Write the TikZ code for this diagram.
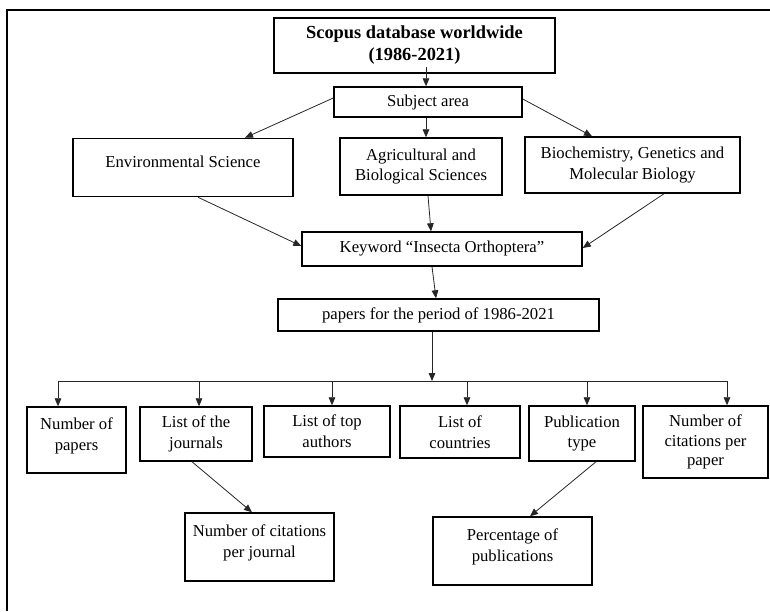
\documentclass[tikz,border=0pt]{standalone}
\usepackage{fontspec}
\setmainfont{Liberation Serif}
\usetikzlibrary{arrows.meta,calc}

\begin{document}
\begin{tikzpicture}
    [%%%%%%%%%%%%%%%%%%%%%%%%%%%%%%
        x=0.75pt, y=-0.75pt,
        box/.style={rectangle,draw=black,line width=1.1pt,align=center,inner sep=2pt,
                    font=\fontsize{12.5}{15.5}\selectfont},
        boxsize/.style 2 args={minimum width=#1*0.75pt,minimum height=#2*0.75pt},
        textup/.style={text depth=#1},
        link/.style={draw=black!85,line width=0.6pt,-{Triangle[length=6pt,width=5pt]}},
    ]%%%%%%%%%%%%%%%%%%%%%%%%%%%%%%
\useasboundingbox (0,0) rectangle (770,611);
\draw[line width=1pt] (7,611) -- (7,10) -- (770,10);

\node[box, boxsize={281}{55}, font=\fontsize{13.8}{16.5}\selectfont\bfseries] (scopus) at (414.5,45.5) {Scopus database worldwide\\(1986-2021)};
\node[box, boxsize={188}{30}] (subject) at (428,102) {Subject area};

\node[box, boxsize={220}{58}, textup=9pt] (envsci) at (183,167.5) {Environmental Science};
\node[box, boxsize={162}{57}] (agrisci) at (421,166.5) {Agricultural and\\Biological Sciences};
\node[box, boxsize={215}{56}] (biosci) at (632.5,165) {Biochemistry, Genetics and\\Molecular Biology};

\node[box, boxsize={280}{34}] (keyword) at (442,249) {Keyword ``Insecta Orthoptera''};
\node[box, boxsize={321}{32}] (period) at (438.5,315) {papers for the period of 1986-2021};

\node[box, boxsize={99}{66}, textup=9pt] (numpapers) at (76.5,440) {Number of\\papers};
\node[box, boxsize={112}{54}] (journals) at (196,434) {List of the\\journals};
\node[box, boxsize={126}{51}] (authors) at (327,431.5) {List of top\\authors};
\node[box, boxsize={120}{52}] (countries) at (460,432) {List of\\countries};
\node[box, boxsize={106}{55}] (pubtype) at (582,433.5) {Publication\\type};
\node[box, boxsize={125}{72}, font=\fontsize{12.5}{14.5}\selectfont] (citpaper) at (705.5,442) {Number of\\citations per\\paper};

\node[box, boxsize={149}{68}, textup=9pt] (citjournal) at (259.5,547) {Number of citations\\per journal};
\node[box, boxsize={159}{68}, textup=9pt] (percent) at (512.5,551) {Percentage of\\publications};

% upper part
\draw[link] ($(scopus.south)+(11.5,-7)$) -- ($(subject.north)+(-2,0)$);
\draw[link] ($(subject.west)+(0,-4)$) -- ($(envsci.north)+(62,0)$);
\draw[link] ($(subject.south)+(-2,0)$) -- ($(agrisci.north)+(5,0)$);
\draw[link] ($(subject.east)+(0,-3)$) -- ($(biosci.north)+(-40.5,0)$);
\draw[link] ($(envsci.south)+(15,0)$) -- ($(keyword.west)+(0,-3)$);
\draw[link] ($(agrisci.south)+(7,0)$) -- ($(keyword.north)+(-11,0)$);
\draw[link] ($(biosci.south)+(31.5,0)$) -- ($(keyword.east)+(0,-1)$);
\draw[link] ($(keyword.south)+(-10,0)$) -- ($(period.north)+(-2.5,0)$);

% bus to the results
\coordinate (bus) at (432,381);
\coordinate (b1) at (58,381);
\coordinate (b2) at (199,381);
\coordinate (b3) at (332,381);
\coordinate (b4) at (467,381);
\coordinate (b5) at (587,381);
\coordinate (b6) at (727,381);
\draw[link] (period.south -| bus) -- (bus);
\draw[draw=black!85,line width=0.6pt] (b1) -- (b6);
\draw[link] (b1) -- (b1 |- numpapers.north);
\draw[link] (b2) -- (b2 |- journals.north);
\draw[link] (b3) -- (b3 |- authors.north);
\draw[link] (b4) -- (b4 |- countries.north);
\draw[link] (b5) -- (b5 |- pubtype.north);
\draw[link] (b6) -- (b6 |- citpaper.north);

% lower part
\draw[link] ($(journals.south)+(-4,0)$) -- ($(citjournal.north)+(-7.5,0)$);
\draw[link] ($(pubtype.south)+(14,0)$) -- ($(percent.north)+(17.5,0)$);

\end{tikzpicture}
\end{document}
